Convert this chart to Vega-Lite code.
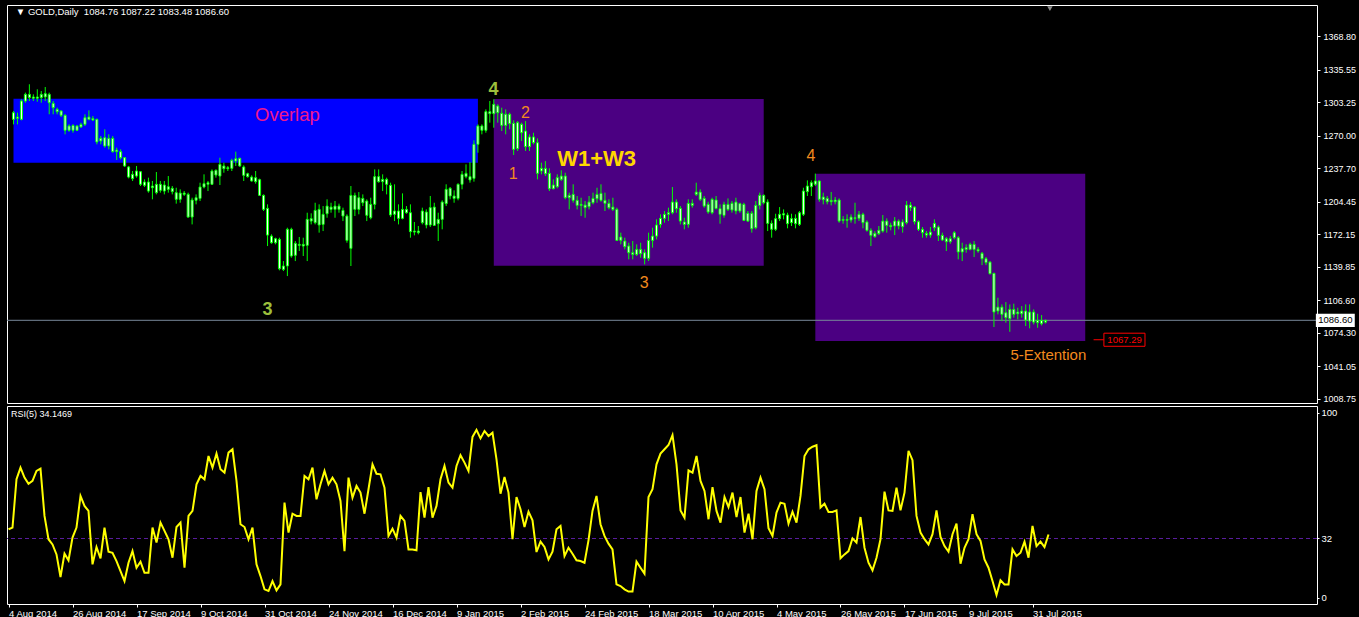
{
"$schema": "https://vega.github.io/schema/vega-lite/v6.json",
"background": "#000000",
"padding": {"left": 4, "top": 4, "right": 2, "bottom": 0},
"spacing": 0,
"datasets": {
"bars": [
{"i":0,"o":1292.7,"h":1294.4,"l":1281.1,"c":1286.1,"r":37.0},
{"i":1,"o":1287.1,"h":1292.7,"l":1281.1,"c":1288.4,"r":37.9},
{"i":2,"o":1286.1,"h":1306.0,"l":1285.1,"c":1304.3,"r":64.0},
{"i":3,"o":1304.3,"h":1312.6,"l":1302.6,"c":1310.9,"r":70.3},
{"i":4,"o":1310.9,"h":1320.9,"l":1304.3,"c":1307.6,"r":64.9},
{"i":5,"o":1307.0,"h":1310.9,"l":1304.3,"c":1308.3,"r":61.6},
{"i":6,"o":1308.3,"h":1315.9,"l":1303.6,"c":1307.0,"r":63.1},
{"i":7,"o":1307.6,"h":1314.2,"l":1302.6,"c":1310.9,"r":68.5},
{"i":8,"o":1308.3,"h":1318.2,"l":1304.3,"c":1311.6,"r":69.7},
{"i":9,"o":1310.9,"h":1312.6,"l":1291.1,"c":1302.6,"r":44.2},
{"i":10,"o":1302.0,"h":1304.3,"l":1291.1,"c":1297.7,"r":31.6},
{"i":11,"o":1296.0,"h":1297.7,"l":1291.1,"c":1293.7,"r":28.8},
{"i":12,"o":1294.4,"h":1295.0,"l":1288.4,"c":1290.1,"r":23.4},
{"i":13,"o":1290.1,"h":1291.1,"l":1271.2,"c":1275.2,"r":11.2},
{"i":14,"o":1275.2,"h":1281.1,"l":1273.8,"c":1279.5,"r":23.8},
{"i":15,"o":1280.1,"h":1281.1,"l":1272.8,"c":1275.2,"r":20.2},
{"i":16,"o":1275.2,"h":1280.5,"l":1274.5,"c":1279.5,"r":32.5},
{"i":17,"o":1278.5,"h":1282.8,"l":1277.8,"c":1281.1,"r":37.9},
{"i":18,"o":1281.1,"h":1291.1,"l":1279.5,"c":1287.7,"r":55.0},
{"i":19,"o":1288.4,"h":1295.0,"l":1285.1,"c":1286.1,"r":49.6},
{"i":20,"o":1286.8,"h":1289.4,"l":1284.4,"c":1285.4,"r":46.9},
{"i":21,"o":1286.1,"h":1286.8,"l":1261.3,"c":1263.6,"r":18.0},
{"i":22,"o":1264.6,"h":1269.5,"l":1261.3,"c":1267.2,"r":27.4},
{"i":23,"o":1267.9,"h":1276.2,"l":1258.0,"c":1259.6,"r":21.3},
{"i":24,"o":1259.6,"h":1271.2,"l":1256.3,"c":1267.2,"r":37.9},
{"i":25,"o":1267.2,"h":1269.5,"l":1253.0,"c":1254.0,"r":24.9},
{"i":26,"o":1254.0,"h":1258.0,"l":1245.7,"c":1255.6,"r":24.3},
{"i":27,"o":1254.0,"h":1256.3,"l":1246.4,"c":1248.0,"r":19.8},
{"i":28,"o":1248.0,"h":1248.7,"l":1238.8,"c":1239.8,"r":14.4},
{"i":29,"o":1238.8,"h":1239.8,"l":1227.5,"c":1228.8,"r":9.0},
{"i":30,"o":1227.2,"h":1234.8,"l":1224.9,"c":1231.5,"r":18.9},
{"i":31,"o":1229.8,"h":1239.8,"l":1228.2,"c":1234.8,"r":25.2},
{"i":32,"o":1234.1,"h":1234.8,"l":1219.9,"c":1221.6,"r":16.2},
{"i":33,"o":1220.6,"h":1226.5,"l":1218.9,"c":1223.9,"r":19.5},
{"i":34,"o":1223.9,"h":1228.2,"l":1213.3,"c":1214.9,"r":13.5},
{"i":35,"o":1218.2,"h":1224.9,"l":1206.7,"c":1219.9,"r":13.5},
{"i":36,"o":1213.3,"h":1233.8,"l":1211.6,"c":1221.6,"r":37.9},
{"i":37,"o":1221.6,"h":1224.9,"l":1213.3,"c":1215.6,"r":29.8},
{"i":38,"o":1214.9,"h":1224.9,"l":1211.6,"c":1220.9,"r":40.6},
{"i":39,"o":1219.2,"h":1229.8,"l":1213.3,"c":1216.6,"r":36.1},
{"i":40,"o":1217.6,"h":1219.9,"l":1211.6,"c":1214.3,"r":31.6},
{"i":41,"o":1213.3,"h":1218.2,"l":1202.4,"c":1206.7,"r":21.6},
{"i":42,"o":1206.7,"h":1216.6,"l":1203.3,"c":1212.9,"r":38.2},
{"i":43,"o":1212.9,"h":1214.9,"l":1210.0,"c":1211.6,"r":40.6},
{"i":44,"o":1211.6,"h":1213.3,"l":1188.4,"c":1189.1,"r":16.2},
{"i":45,"o":1189.1,"h":1208.3,"l":1181.8,"c":1206.0,"r":44.2},
{"i":46,"o":1205.7,"h":1211.6,"l":1201.7,"c":1208.3,"r":46.9},
{"i":47,"o":1207.6,"h":1223.2,"l":1205.0,"c":1218.9,"r":61.3},
{"i":48,"o":1218.9,"h":1231.5,"l":1217.6,"c":1222.2,"r":65.8},
{"i":49,"o":1221.6,"h":1224.9,"l":1214.9,"c":1223.2,"r":64.0},
{"i":50,"o":1221.6,"h":1236.4,"l":1220.9,"c":1234.8,"r":76.6},
{"i":51,"o":1235.5,"h":1236.4,"l":1228.2,"c":1230.8,"r":70.3},
{"i":52,"o":1229.8,"h":1248.0,"l":1220.9,"c":1241.4,"r":77.9},
{"i":53,"o":1239.8,"h":1243.1,"l":1233.1,"c":1237.1,"r":69.4},
{"i":54,"o":1237.1,"h":1239.8,"l":1234.8,"c":1238.1,"r":67.6},
{"i":55,"o":1237.4,"h":1247.0,"l":1234.8,"c":1245.4,"r":78.4},
{"i":56,"o":1244.7,"h":1254.0,"l":1239.8,"c":1247.0,"r":80.2},
{"i":57,"o":1247.4,"h":1248.0,"l":1238.8,"c":1239.8,"r":63.1},
{"i":58,"o":1238.8,"h":1240.4,"l":1224.9,"c":1230.5,"r":39.7},
{"i":59,"o":1229.2,"h":1233.1,"l":1228.2,"c":1232.1,"r":38.2},
{"i":60,"o":1228.8,"h":1230.5,"l":1224.2,"c":1224.9,"r":31.6},
{"i":61,"o":1224.2,"h":1234.8,"l":1222.2,"c":1228.2,"r":37.9},
{"i":62,"o":1226.2,"h":1227.2,"l":1210.0,"c":1210.6,"r":18.0},
{"i":63,"o":1210.6,"h":1211.6,"l":1195.1,"c":1196.7,"r":11.7},
{"i":64,"o":1197.7,"h":1201.7,"l":1160.3,"c":1171.2,"r":4.5},
{"i":65,"o":1170.2,"h":1171.9,"l":1162.6,"c":1163.6,"r":3.6},
{"i":66,"o":1163.6,"h":1168.6,"l":1162.0,"c":1167.6,"r":9.0},
{"i":67,"o":1166.9,"h":1168.6,"l":1136.2,"c":1137.8,"r":4.0},
{"i":68,"o":1140.5,"h":1145.4,"l":1135.5,"c":1137.1,"r":7.2},
{"i":69,"o":1140.5,"h":1178.5,"l":1130.5,"c":1176.9,"r":51.4},
{"i":70,"o":1176.9,"h":1178.5,"l":1148.7,"c":1150.4,"r":35.2},
{"i":71,"o":1151.1,"h":1165.3,"l":1145.4,"c":1163.0,"r":45.4},
{"i":72,"o":1162.0,"h":1169.3,"l":1155.4,"c":1161.0,"r":44.2},
{"i":73,"o":1160.3,"h":1168.6,"l":1150.4,"c":1162.0,"r":44.2},
{"i":74,"o":1161.0,"h":1193.4,"l":1145.4,"c":1186.8,"r":65.8},
{"i":75,"o":1187.5,"h":1192.8,"l":1181.8,"c":1185.1,"r":64.0},
{"i":76,"o":1183.5,"h":1203.3,"l":1181.8,"c":1195.7,"r":70.3},
{"i":77,"o":1196.7,"h":1201.7,"l":1173.6,"c":1181.2,"r":53.2},
{"i":78,"o":1181.8,"h":1200.0,"l":1175.2,"c":1191.8,"r":61.3},
{"i":79,"o":1192.4,"h":1206.7,"l":1188.4,"c":1200.0,"r":68.5},
{"i":80,"o":1199.0,"h":1203.3,"l":1193.4,"c":1196.7,"r":61.3},
{"i":81,"o":1196.7,"h":1205.0,"l":1188.4,"c":1200.0,"r":64.9},
{"i":82,"o":1200.0,"h":1202.4,"l":1193.4,"c":1196.7,"r":61.3},
{"i":83,"o":1195.7,"h":1198.4,"l":1185.1,"c":1190.1,"r":52.3},
{"i":84,"o":1190.1,"h":1191.8,"l":1163.6,"c":1165.9,"r":25.2},
{"i":85,"o":1158.0,"h":1219.9,"l":1140.5,"c":1210.6,"r":64.9},
{"i":86,"o":1210.6,"h":1213.3,"l":1190.1,"c":1196.7,"r":54.1},
{"i":87,"o":1196.7,"h":1213.9,"l":1191.8,"c":1208.3,"r":60.4},
{"i":88,"o":1207.6,"h":1211.6,"l":1200.0,"c":1203.3,"r":56.8},
{"i":89,"o":1205.0,"h":1206.7,"l":1185.1,"c":1190.8,"r":45.4},
{"i":90,"o":1188.4,"h":1208.3,"l":1186.8,"c":1201.7,"r":58.6},
{"i":91,"o":1201.7,"h":1236.4,"l":1196.7,"c":1229.2,"r":72.1},
{"i":92,"o":1229.2,"h":1236.4,"l":1223.2,"c":1224.2,"r":67.0},
{"i":93,"o":1224.2,"h":1231.5,"l":1214.9,"c":1226.5,"r":66.7},
{"i":94,"o":1226.5,"h":1228.2,"l":1211.6,"c":1221.6,"r":59.5},
{"i":95,"o":1220.6,"h":1223.2,"l":1189.1,"c":1191.1,"r":33.4},
{"i":96,"o":1191.8,"h":1221.6,"l":1185.1,"c":1195.1,"r":37.3},
{"i":97,"o":1195.1,"h":1201.7,"l":1181.8,"c":1187.8,"r":32.5},
{"i":98,"o":1187.8,"h":1212.6,"l":1186.8,"c":1196.7,"r":44.2},
{"i":99,"o":1196.7,"h":1200.0,"l":1192.4,"c":1193.4,"r":41.5},
{"i":100,"o":1193.4,"h":1201.7,"l":1168.6,"c":1174.6,"r":26.1},
{"i":101,"o":1174.2,"h":1184.2,"l":1170.9,"c":1175.2,"r":26.1},
{"i":102,"o":1175.2,"h":1180.2,"l":1171.9,"c":1173.6,"r":25.6},
{"i":103,"o":1183.5,"h":1198.4,"l":1181.8,"c":1195.1,"r":57.1},
{"i":104,"o":1194.1,"h":1196.7,"l":1177.9,"c":1181.2,"r":43.3},
{"i":105,"o":1181.2,"h":1210.0,"l":1179.2,"c":1198.4,"r":59.8},
{"i":106,"o":1199.0,"h":1203.3,"l":1180.2,"c":1180.8,"r":43.3},
{"i":107,"o":1182.5,"h":1193.4,"l":1165.3,"c":1186.8,"r":49.6},
{"i":108,"o":1186.8,"h":1205.7,"l":1176.9,"c":1204.0,"r":64.0},
{"i":109,"o":1202.4,"h":1221.6,"l":1200.0,"c":1216.6,"r":71.2},
{"i":110,"o":1217.6,"h":1218.9,"l":1206.7,"c":1210.0,"r":62.2},
{"i":111,"o":1210.0,"h":1215.6,"l":1203.3,"c":1207.6,"r":59.5},
{"i":112,"o":1207.6,"h":1222.5,"l":1205.7,"c":1221.6,"r":71.2},
{"i":113,"o":1221.6,"h":1234.8,"l":1216.6,"c":1231.5,"r":77.0},
{"i":114,"o":1232.5,"h":1241.4,"l":1227.5,"c":1229.2,"r":73.0},
{"i":115,"o":1225.9,"h":1243.7,"l":1223.2,"c":1229.2,"r":68.5},
{"i":116,"o":1227.5,"h":1265.3,"l":1224.2,"c":1261.3,"r":86.9},
{"i":117,"o":1261.3,"h":1281.1,"l":1253.0,"c":1279.5,"r":90.7},
{"i":118,"o":1279.5,"h":1281.1,"l":1271.2,"c":1275.2,"r":86.1},
{"i":119,"o":1275.2,"h":1296.0,"l":1272.8,"c":1293.7,"r":90.1},
{"i":120,"o":1293.7,"h":1304.3,"l":1282.8,"c":1291.7,"r":87.4},
{"i":121,"o":1291.7,"h":1306.0,"l":1277.8,"c":1301.0,"r":89.2},
{"i":122,"o":1299.3,"h":1301.0,"l":1282.8,"c":1292.7,"r":74.8},
{"i":123,"o":1292.0,"h":1297.7,"l":1274.5,"c":1280.1,"r":56.2},
{"i":124,"o":1280.1,"h":1296.0,"l":1271.2,"c":1291.1,"r":65.2},
{"i":125,"o":1291.1,"h":1292.7,"l":1276.2,"c":1281.8,"r":56.8},
{"i":126,"o":1282.1,"h":1285.1,"l":1250.7,"c":1256.3,"r":31.6},
{"i":127,"o":1257.0,"h":1284.4,"l":1254.7,"c":1282.8,"r":54.4},
{"i":128,"o":1281.1,"h":1282.8,"l":1264.6,"c":1272.8,"r":47.8},
{"i":129,"o":1274.5,"h":1284.4,"l":1254.7,"c":1259.0,"r":38.2},
{"i":130,"o":1259.0,"h":1271.2,"l":1254.7,"c":1268.6,"r":46.5},
{"i":131,"o":1268.6,"h":1272.8,"l":1261.3,"c":1262.9,"r":41.8},
{"i":132,"o":1262.9,"h":1267.2,"l":1226.5,"c":1232.5,"r":24.7},
{"i":133,"o":1234.8,"h":1243.1,"l":1231.5,"c":1237.4,"r":30.3},
{"i":134,"o":1237.4,"h":1244.7,"l":1229.8,"c":1232.1,"r":27.4},
{"i":135,"o":1232.5,"h":1237.4,"l":1214.9,"c":1217.2,"r":20.7},
{"i":136,"o":1217.2,"h":1226.5,"l":1216.6,"c":1220.9,"r":24.9},
{"i":137,"o":1219.2,"h":1231.5,"l":1217.6,"c":1228.2,"r":37.0},
{"i":138,"o":1226.5,"h":1235.5,"l":1224.9,"c":1229.8,"r":38.8},
{"i":139,"o":1229.8,"h":1233.1,"l":1206.7,"c":1208.3,"r":22.5},
{"i":140,"o":1208.3,"h":1213.3,"l":1196.7,"c":1210.6,"r":27.0},
{"i":141,"o":1211.6,"h":1221.6,"l":1203.3,"c":1205.7,"r":23.8},
{"i":142,"o":1205.7,"h":1210.0,"l":1196.7,"c":1200.7,"r":20.2},
{"i":143,"o":1200.7,"h":1208.3,"l":1190.1,"c":1201.7,"r":19.8},
{"i":144,"o":1201.0,"h":1205.0,"l":1188.4,"c":1198.4,"r":18.9},
{"i":145,"o":1199.4,"h":1210.0,"l":1196.7,"c":1204.0,"r":31.0},
{"i":146,"o":1203.3,"h":1213.3,"l":1201.7,"c":1207.6,"r":46.9},
{"i":147,"o":1207.3,"h":1218.2,"l":1203.3,"c":1211.6,"r":55.0},
{"i":148,"o":1212.6,"h":1221.6,"l":1204.3,"c":1205.7,"r":39.7},
{"i":149,"o":1205.7,"h":1213.3,"l":1195.1,"c":1202.7,"r":33.4},
{"i":150,"o":1202.7,"h":1206.7,"l":1196.7,"c":1198.4,"r":29.2},
{"i":151,"o":1199.0,"h":1208.3,"l":1195.1,"c":1196.7,"r":26.1},
{"i":152,"o":1196.7,"h":1198.4,"l":1165.3,"c":1165.9,"r":7.2},
{"i":153,"o":1165.9,"h":1173.6,"l":1162.0,"c":1169.3,"r":6.3},
{"i":154,"o":1165.3,"h":1168.6,"l":1157.0,"c":1159.7,"r":4.5},
{"i":155,"o":1160.3,"h":1163.6,"l":1147.1,"c":1153.7,"r":3.3},
{"i":156,"o":1153.7,"h":1165.3,"l":1147.1,"c":1152.0,"r":3.3},
{"i":157,"o":1152.0,"h":1162.0,"l":1150.4,"c":1157.0,"r":19.5},
{"i":158,"o":1157.0,"h":1163.6,"l":1148.7,"c":1152.7,"r":16.2},
{"i":159,"o":1153.7,"h":1157.0,"l":1142.1,"c":1148.1,"r":13.0},
{"i":160,"o":1148.1,"h":1173.6,"l":1145.4,"c":1165.9,"r":54.4},
{"i":161,"o":1165.9,"h":1178.5,"l":1158.7,"c":1170.2,"r":58.6},
{"i":162,"o":1170.2,"h":1186.8,"l":1166.9,"c":1181.2,"r":72.1},
{"i":163,"o":1181.8,"h":1191.8,"l":1178.5,"c":1187.8,"r":77.9},
{"i":164,"o":1187.8,"h":1195.1,"l":1183.5,"c":1191.8,"r":80.2},
{"i":165,"o":1191.8,"h":1198.4,"l":1185.1,"c":1193.4,"r":82.5},
{"i":166,"o":1193.4,"h":1218.9,"l":1191.8,"c":1204.0,"r":87.9},
{"i":167,"o":1204.0,"h":1206.7,"l":1193.4,"c":1197.4,"r":72.1},
{"i":168,"o":1197.7,"h":1200.0,"l":1181.8,"c":1185.1,"r":47.2},
{"i":169,"o":1184.2,"h":1188.4,"l":1176.9,"c":1181.8,"r":43.3},
{"i":170,"o":1181.8,"h":1206.7,"l":1178.5,"c":1202.7,"r":68.8},
{"i":171,"o":1202.7,"h":1206.7,"l":1198.4,"c":1200.7,"r":67.6},
{"i":172,"o":1211.6,"h":1223.2,"l":1210.0,"c":1213.9,"r":76.6},
{"i":173,"o":1213.9,"h":1216.6,"l":1205.0,"c":1206.7,"r":63.1},
{"i":174,"o":1207.6,"h":1210.0,"l":1198.4,"c":1200.0,"r":57.7},
{"i":175,"o":1201.7,"h":1204.3,"l":1192.4,"c":1194.1,"r":42.4},
{"i":176,"o":1193.4,"h":1208.3,"l":1191.8,"c":1206.7,"r":59.8},
{"i":177,"o":1206.0,"h":1210.0,"l":1196.7,"c":1197.7,"r":46.9},
{"i":178,"o":1197.4,"h":1201.7,"l":1182.5,"c":1191.8,"r":40.6},
{"i":179,"o":1190.8,"h":1204.3,"l":1188.4,"c":1201.7,"r":54.4},
{"i":180,"o":1201.7,"h":1207.6,"l":1195.1,"c":1196.7,"r":49.0},
{"i":181,"o":1196.1,"h":1205.0,"l":1193.4,"c":1202.7,"r":56.8},
{"i":182,"o":1204.0,"h":1208.3,"l":1191.8,"c":1195.1,"r":43.6},
{"i":183,"o":1195.1,"h":1203.3,"l":1193.4,"c":1202.4,"r":54.4},
{"i":184,"o":1201.7,"h":1203.3,"l":1185.1,"c":1185.8,"r":35.2},
{"i":185,"o":1185.1,"h":1195.1,"l":1184.2,"c":1192.8,"r":45.4},
{"i":186,"o":1192.8,"h":1195.1,"l":1173.6,"c":1177.5,"r":31.6},
{"i":187,"o":1178.5,"h":1205.0,"l":1176.9,"c":1200.7,"r":57.7},
{"i":188,"o":1200.7,"h":1213.3,"l":1196.7,"c":1210.6,"r":64.9},
{"i":189,"o":1210.6,"h":1211.6,"l":1201.7,"c":1203.3,"r":58.6},
{"i":190,"o":1204.0,"h":1206.7,"l":1175.2,"c":1182.8,"r":37.5},
{"i":191,"o":1182.8,"h":1185.8,"l":1168.6,"c":1176.9,"r":33.4},
{"i":192,"o":1176.9,"h":1192.4,"l":1175.2,"c":1187.5,"r":46.0},
{"i":193,"o":1187.5,"h":1199.0,"l":1185.1,"c":1191.8,"r":51.4},
{"i":194,"o":1191.1,"h":1196.7,"l":1186.8,"c":1192.4,"r":50.8},
{"i":195,"o":1191.1,"h":1193.4,"l":1177.9,"c":1182.5,"r":40.0},
{"i":196,"o":1183.5,"h":1192.4,"l":1180.2,"c":1187.5,"r":46.5},
{"i":197,"o":1187.8,"h":1191.8,"l":1177.9,"c":1182.5,"r":40.6},
{"i":198,"o":1181.8,"h":1195.1,"l":1180.2,"c":1193.4,"r":55.0},
{"i":199,"o":1191.8,"h":1218.2,"l":1190.1,"c":1214.9,"r":76.6},
{"i":200,"o":1214.3,"h":1225.5,"l":1210.0,"c":1219.9,"r":80.2},
{"i":201,"o":1219.2,"h":1225.5,"l":1210.0,"c":1223.2,"r":81.6},
{"i":202,"o":1221.6,"h":1232.2,"l":1219.9,"c":1224.9,"r":82.4},
{"i":203,"o":1224.9,"h":1225.5,"l":1204.3,"c":1206.7,"r":48.7},
{"i":204,"o":1206.3,"h":1213.3,"l":1201.7,"c":1209.0,"r":50.8},
{"i":205,"o":1207.6,"h":1210.0,"l":1201.7,"c":1204.3,"r":46.3},
{"i":206,"o":1204.3,"h":1214.0,"l":1200.7,"c":1205.7,"r":46.3},
{"i":207,"o":1206.0,"h":1209.0,"l":1201.7,"c":1204.3,"r":47.2},
{"i":208,"o":1206.0,"h":1207.6,"l":1183.5,"c":1185.1,"r":21.3},
{"i":209,"o":1185.8,"h":1190.1,"l":1182.5,"c":1186.8,"r":23.4},
{"i":210,"o":1186.8,"h":1191.8,"l":1178.5,"c":1185.8,"r":25.2},
{"i":211,"o":1186.1,"h":1191.8,"l":1183.5,"c":1189.1,"r":32.1},
{"i":212,"o":1188.4,"h":1203.3,"l":1182.5,"c":1187.5,"r":29.8},
{"i":213,"o":1187.8,"h":1195.1,"l":1185.1,"c":1191.8,"r":43.6},
{"i":214,"o":1191.8,"h":1193.4,"l":1177.9,"c":1183.5,"r":27.0},
{"i":215,"o":1184.2,"h":1185.8,"l":1174.6,"c":1175.9,"r":18.9},
{"i":216,"o":1175.9,"h":1177.9,"l":1160.3,"c":1170.9,"r":14.8},
{"i":217,"o":1169.6,"h":1175.2,"l":1168.6,"c":1172.9,"r":21.6},
{"i":218,"o":1172.6,"h":1180.2,"l":1171.2,"c":1175.9,"r":31.6},
{"i":219,"o":1175.2,"h":1191.1,"l":1173.6,"c":1185.1,"r":57.3},
{"i":220,"o":1185.1,"h":1187.8,"l":1173.6,"c":1180.8,"r":47.2},
{"i":221,"o":1180.8,"h":1183.5,"l":1175.9,"c":1179.5,"r":46.9},
{"i":222,"o":1180.2,"h":1189.1,"l":1171.2,"c":1185.1,"r":59.5},
{"i":223,"o":1185.1,"h":1186.8,"l":1176.9,"c":1180.2,"r":47.2},
{"i":224,"o":1179.5,"h":1186.8,"l":1173.6,"c":1184.2,"r":56.8},
{"i":225,"o":1183.5,"h":1205.0,"l":1181.8,"c":1201.0,"r":79.3},
{"i":226,"o":1201.0,"h":1204.0,"l":1195.1,"c":1198.4,"r":74.3},
{"i":227,"o":1199.0,"h":1200.0,"l":1181.8,"c":1184.5,"r":44.2},
{"i":228,"o":1184.5,"h":1185.8,"l":1175.2,"c":1176.9,"r":35.2},
{"i":229,"o":1176.9,"h":1179.2,"l":1168.6,"c":1173.6,"r":31.6},
{"i":230,"o":1172.9,"h":1175.2,"l":1168.6,"c":1171.2,"r":28.8},
{"i":231,"o":1171.2,"h":1179.2,"l":1168.6,"c":1174.2,"r":34.3},
{"i":232,"o":1178.5,"h":1186.8,"l":1175.2,"c":1182.8,"r":47.2},
{"i":233,"o":1179.2,"h":1180.8,"l":1165.3,"c":1170.9,"r":32.8},
{"i":234,"o":1170.9,"h":1173.6,"l":1165.3,"c":1166.3,"r":27.9},
{"i":235,"o":1164.6,"h":1169.3,"l":1155.4,"c":1167.6,"r":24.9},
{"i":236,"o":1164.6,"h":1170.2,"l":1162.6,"c":1167.6,"r":34.3},
{"i":237,"o":1168.6,"h":1175.2,"l":1166.9,"c":1173.6,"r":40.0},
{"i":238,"o":1168.6,"h":1170.2,"l":1147.1,"c":1154.4,"r":18.4},
{"i":239,"o":1154.4,"h":1163.6,"l":1145.4,"c":1157.7,"r":27.0},
{"i":240,"o":1157.0,"h":1162.0,"l":1153.7,"c":1158.7,"r":31.6},
{"i":241,"o":1157.0,"h":1163.6,"l":1156.0,"c":1162.0,"r":45.1},
{"i":242,"o":1162.0,"h":1165.3,"l":1149.4,"c":1157.0,"r":34.3},
{"i":243,"o":1157.0,"h":1159.3,"l":1153.7,"c":1155.4,"r":30.7},
{"i":244,"o":1153.1,"h":1154.4,"l":1141.4,"c":1147.7,"r":20.7},
{"i":245,"o":1147.7,"h":1149.4,"l":1141.4,"c":1143.8,"r":16.2},
{"i":246,"o":1144.4,"h":1145.4,"l":1132.2,"c":1132.8,"r":9.0},
{"i":247,"o":1133.2,"h":1133.8,"l":1079.9,"c":1094.8,"r":1.5},
{"i":248,"o":1095.8,"h":1109.0,"l":1092.5,"c":1099.7,"r":9.4},
{"i":249,"o":1099.7,"h":1102.4,"l":1085.8,"c":1092.5,"r":7.2},
{"i":250,"o":1094.1,"h":1104.7,"l":1084.2,"c":1089.2,"r":7.2},
{"i":251,"o":1088.2,"h":1102.4,"l":1075.2,"c":1097.4,"r":26.1},
{"i":252,"o":1097.4,"h":1103.1,"l":1089.2,"c":1092.5,"r":22.5},
{"i":253,"o":1093.1,"h":1099.1,"l":1087.5,"c":1094.8,"r":24.3},
{"i":254,"o":1093.1,"h":1100.7,"l":1089.2,"c":1095.8,"r":30.3},
{"i":255,"o":1095.8,"h":1102.4,"l":1080.9,"c":1086.8,"r":21.6},
{"i":256,"o":1085.8,"h":1102.4,"l":1078.6,"c":1094.8,"r":38.8},
{"i":257,"o":1094.8,"h":1097.4,"l":1082.5,"c":1084.8,"r":27.9},
{"i":258,"o":1084.2,"h":1093.1,"l":1079.2,"c":1086.5,"r":30.3},
{"i":259,"o":1086.5,"h":1091.8,"l":1081.5,"c":1083.2,"r":27.4},
{"i":260,"o":1084.76,"h":1087.22,"l":1083.48,"c":1086.6,"r":34.15}
],
"zones": [
{"k":"overlap","i":0,"i2":117,"p":1242.9,"p2":1306.5},
{"k":"wave","i":121,"i2":189,"p":1140.8,"p2":1306.2},
{"k":"wave","i":202,"i2":270,"p":1066.0,"p2":1232.1}
]
},
"vconcat": [
{
"width": 1310,
"height": 398,
"resolve": {"axis": {"y": "independent", "x": "independent"}},
"layer": [
{
"data": {"name": "zones"},
"mark": {"type": "rect"},
"encoding": {
"x": {"field": "i", "type": "quantitative", "scale": {"domain": [-0.375, 327.125], "nice": false, "zero": false}, "axis": null},
"x2": {"field": "i2"},
"y": {"field": "p", "type": "quantitative", "title": null, "scale": {"domain": [1004.5, 1399.6], "nice": false, "zero": false},
"axis": {"orient": "right", "title": null, "values": [1368.80, 1335.55, 1303.25, 1270.00, 1237.70, 1204.45, 1172.15, 1139.85, 1106.60, 1074.30, 1041.05, 1008.75], "format": ".2f", "tickSize": 3, "labelPadding": 3, "labelFontSize": 9, "labelColor": "#FFFFFF", "tickColor": "#FFFFFF", "domain": false, "grid": false, "labelOverlap": false}},
"y2": {"field": "p2"},
"color": {"field": "k", "type": "nominal", "scale": {"domain": ["overlap", "wave"], "range": ["#0000FF", "#4B0082"]}, "legend": null}
}
},
{
"data": {"values": [{"p": 1086.6}]},
"mark": {"type": "rule", "color": "#778899", "strokeWidth": 1},
"encoding": {"y": {"field": "p", "type": "quantitative", "axis": null}}
},
{
"data": {"name": "bars"},
"mark": {"type": "rule", "color": "#00FF00", "strokeWidth": 1},
"encoding": {
"x": {"field": "i", "type": "quantitative", "axis": null},
"y": {"field": "l", "type": "quantitative", "axis": null},
"y2": {"field": "h"}
}
},
{
"data": {"name": "bars"},
"mark": {"type": "bar", "width": 2, "fill": "#FFFFFF", "stroke": "#00FF00", "strokeWidth": 1},
"encoding": {
"x": {"field": "i", "type": "quantitative", "axis": null},
"y": {"field": "o", "type": "quantitative", "axis": null},
"y2": {"field": "c"}
}
},
{
"data": {"values": [{"i": 69, "p": 1290.4, "t": "Overlap"}]},
"mark": {"type": "text", "font": "Liberation Sans", "fontSize": 18.5, "color": "#F0188C", "align": "center", "baseline": "middle"},
"encoding": {"x": {"field": "i", "type": "quantitative", "axis": null}, "y": {"field": "p", "type": "quantitative", "axis": null}, "text": {"field": "t"}}
},
{
"data": {"values": [{"i": 146.9, "p": 1246.7, "t": "W1+W3"}]},
"mark": {"type": "text", "font": "Liberation Sans", "fontSize": 22, "fontWeight": "bold", "color": "#FFD700", "align": "center", "baseline": "middle"},
"encoding": {"x": {"field": "i", "type": "quantitative", "axis": null}, "y": {"field": "p", "type": "quantitative", "axis": null}, "text": {"field": "t"}}
},
{
"data": {"values": [{"i": 120.9, "p": 1315.7, "t": "4"}, {"i": 64, "p": 1096.8, "t": "3"}]},
"mark": {"type": "text", "font": "Liberation Sans", "fontSize": 18, "fontWeight": "bold", "color": "#9CBF3C", "align": "center", "baseline": "middle"},
"encoding": {"x": {"field": "i", "type": "quantitative", "axis": null}, "y": {"field": "p", "type": "quantitative", "axis": null}, "text": {"field": "t"}}
},
{
"data": {"values": [{"i": 129, "p": 1292.4, "t": "2"}, {"i": 125.9, "p": 1232.0, "t": "1"}, {"i": 158.9, "p": 1123.6, "t": "3"}, {"i": 200.9, "p": 1249.7, "t": "4"}]},
"mark": {"type": "text", "font": "Liberation Sans", "fontSize": 16, "color": "#F28A1E", "align": "center", "baseline": "middle"},
"encoding": {"x": {"field": "i", "type": "quantitative", "axis": null}, "y": {"field": "p", "type": "quantitative", "axis": null}, "text": {"field": "t"}}
},
{
"data": {"values": [{"i": 260.7, "p": 1052.1, "t": "5-Extention"}]},
"mark": {"type": "text", "font": "Liberation Sans", "fontSize": 15, "color": "#F28A1E", "align": "center", "baseline": "middle"},
"encoding": {"x": {"field": "i", "type": "quantitative", "axis": null}, "y": {"field": "p", "type": "quantitative", "axis": null}, "text": {"field": "t"}}
},
{
"data": {"values": [{"i": 272.1, "i2": 274.7, "p": 1067.29}]},
"mark": {"type": "rule", "color": "#FF0000", "strokeWidth": 1},
"encoding": {"x": {"field": "i", "type": "quantitative", "axis": null}, "x2": {"field": "i2"}, "y": {"field": "p", "type": "quantitative", "axis": null}}
},
{
"data": {"values": [{"i": 274.7, "i2": 285.05, "p": 1060.8, "p2": 1073.8}]},
"mark": {"type": "rect", "fill": "#000000", "stroke": "#FF0000", "strokeWidth": 1},
"encoding": {"x": {"field": "i", "type": "quantitative", "axis": null}, "x2": {"field": "i2"}, "y": {"field": "p", "type": "quantitative", "axis": null}, "y2": {"field": "p2"}}
},
{
"data": {"values": [{"i": 279.9, "p": 1067.29, "t": "1067.29"}]},
"mark": {"type": "text", "font": "Liberation Sans", "fontSize": 9.5, "color": "#FF0000", "align": "center", "baseline": "middle"},
"encoding": {"x": {"field": "i", "type": "quantitative", "axis": null}, "y": {"field": "p", "type": "quantitative", "axis": null}, "text": {"field": "t"}}
},
{
"data": {"values": [{"i": 328.1, "i2": 337.9, "p": 1080.0, "p2": 1093.2}]},
"mark": {"type": "rect", "fill": "#FFFFFF"},
"encoding": {"x": {"field": "i", "type": "quantitative", "axis": null}, "x2": {"field": "i2"}, "y": {"field": "p", "type": "quantitative", "axis": null}, "y2": {"field": "p2"}}
},
{
"data": {"values": [{"i": 333.0, "p": 1086.6, "t": "1086.60"}]},
"mark": {"type": "text", "font": "Liberation Sans", "fontSize": 9.5, "color": "#000000", "align": "center", "baseline": "middle"},
"encoding": {"x": {"field": "i", "type": "quantitative", "axis": null}, "y": {"field": "p", "type": "quantitative", "axis": null}, "text": {"field": "t"}}
},
{
"data": {"values": [{"i": 0.6, "p": 1392.7, "t": "▼ GOLD,Daily\u00a0\u00a01084.76 1087.22 1083.48 1086.60"}]},
"mark": {"type": "text", "font": "Liberation Sans", "fontSize": 9.5, "color": "#FFFFFF", "align": "left", "baseline": "middle"},
"encoding": {"x": {"field": "i", "type": "quantitative", "axis": null}, "y": {"field": "p", "type": "quantitative", "axis": null}, "text": {"field": "t"}}
},
{
"data": {"values": [{"i": 261.1, "p": 1396.0}]},
"mark": {"type": "point", "shape": "triangle-down", "filled": true, "size": 30, "color": "#8C8C8C", "opacity": 1},
"encoding": {"x": {"field": "i", "type": "quantitative", "axis": null}, "y": {"field": "p", "type": "quantitative", "axis": null}}
}
]
},
{
"width": 1310,
"height": 198,
"layer": [
{
"data": {"values": [{"r": 32}]},
"mark": {"type": "rule", "color": "#5B1E9E", "strokeWidth": 1, "strokeDash": [4, 3]},
"encoding": {"y": {"field": "r", "type": "quantitative", "title": null, "scale": {"domain": [-3.4, 103.6], "nice": false, "zero": false},
"axis": {"orient": "right", "title": null, "values": [0, 32, 100], "format": "d", "tickSize": 2, "labelPadding": 2, "labelFontSize": 9.5, "labelColor": "#FFFFFF", "tickColor": "#FFFFFF", "domain": false, "grid": false, "labelOverlap": false}}}
},
{
"data": {"name": "bars"},
"mark": {"type": "line", "color": "#FFFF00", "strokeWidth": 2},
"encoding": {
"x": {"field": "i", "type": "quantitative", "title": null, "scale": {"domain": [-0.375, 327.125], "nice": false, "zero": false},
"axis": {"orient": "bottom", "title": null, "values": [0, 16, 32, 48, 64, 80, 96, 112, 128, 144, 160, 176, 192, 208, 224, 240, 256],
"labelExpr": "['4 Aug 2014','26 Aug 2014','17 Sep 2014','9 Oct 2014','31 Oct 2014','24 Nov 2014','16 Dec 2014','9 Jan 2015','2 Feb 2015','24 Feb 2015','18 Mar 2015','10 Apr 2015','4 May 2015','26 May 2015','17 Jun 2015','9 Jul 2015','31 Jul 2015'][round(datum.value/16)]",
"labelAlign": "left", "labelBaseline": "top", "labelPadding": 1, "tickSize": 3, "labelFontSize": 9.5, "labelColor": "#FFFFFF", "tickColor": "#FFFFFF", "domain": false, "grid": false, "labelOverlap": false, "labelFlush": false}},
"y": {"field": "r", "type": "quantitative", "title": null}
}
},
{
"data": {"values": [{"i": 0.6, "r": 99.2, "t": "RSI(5) 34.1469"}]},
"mark": {"type": "text", "font": "Liberation Sans", "fontSize": 9, "color": "#FFFFFF", "align": "left", "baseline": "middle"},
"encoding": {"x": {"field": "i", "type": "quantitative", "title": null}, "y": {"field": "r", "type": "quantitative", "title": null}, "text": {"field": "t"}}
}
]
}
],
"resolve": {"scale": {"x": "independent", "y": "independent"}},
"config": {
"view": {"stroke": "#FFFFFF", "strokeWidth": 1},
"axis": {"labelFont": "Liberation Sans", "domain": false, "grid": false, "labelOverlap": false},
"text": {"font": "Liberation Sans"}
}
}
